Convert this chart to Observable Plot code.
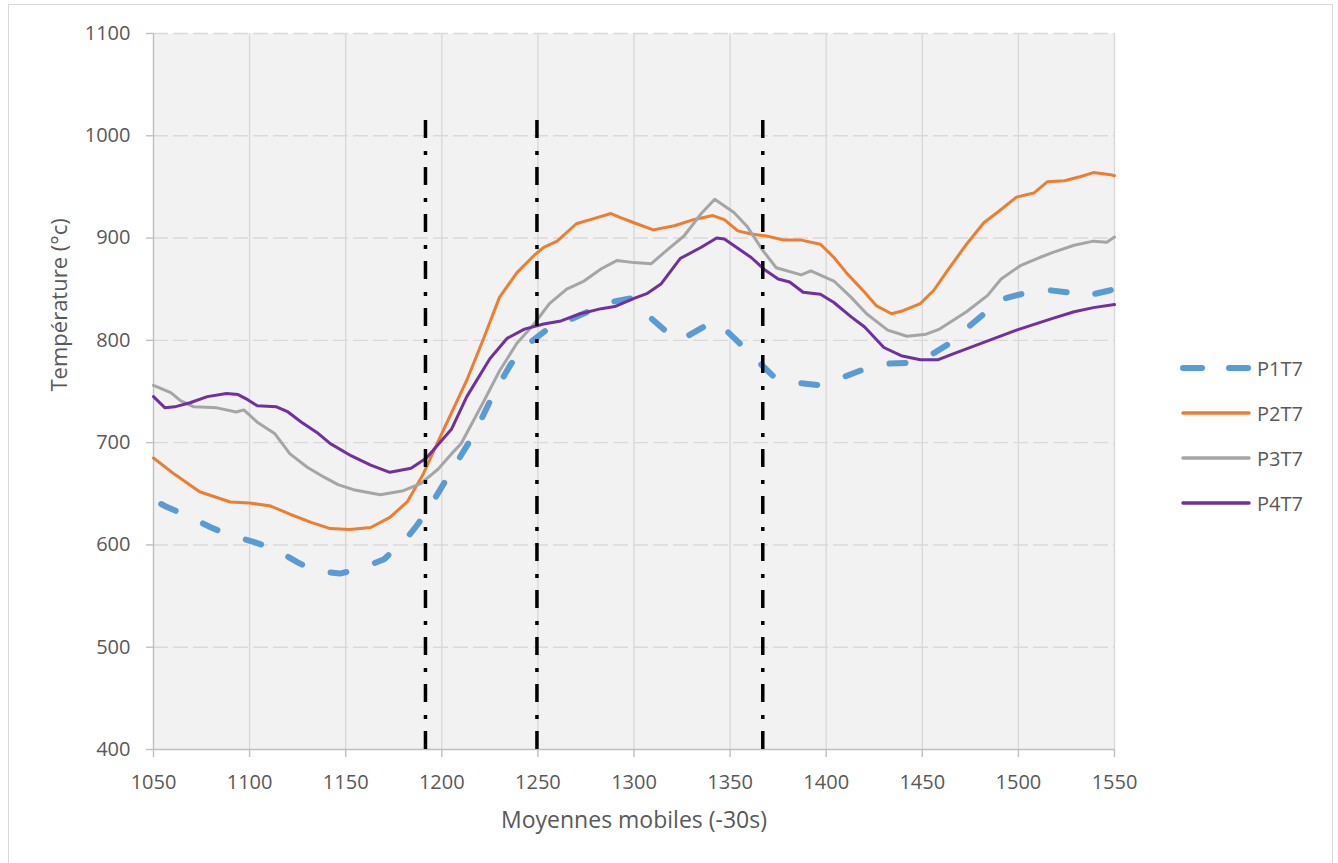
<!DOCTYPE html>
<html>
<head>
<meta charset="utf-8">
<script src="https://cdn.jsdelivr.net/npm/d3@7"></script>
<script src="https://cdn.jsdelivr.net/npm/@observablehq/plot@0.6"></script>
<style>
  body { margin: 0; background: #ffffff; font-family: "Open Sans", sans-serif; }
  #wrap { position: relative; width: 1338px; height: 863px; overflow: hidden; }
  #border { position: absolute; left: 8px; top: 4px; width: 1325px; height: 870px; border: 1px solid #d9d9d9; box-sizing: border-box; }
  #chart { position: absolute; left: 0; top: 0; }
  .leg { position: absolute; left: 1180px; height: 30px; display: flex; align-items: center; }
  .leg span { font-size: 20px; color: #595959; margin-left: 5px; }
</style>
</head>
<body>
<div id="wrap">
  <div id="border"></div>
  <div id="chart"></div>
  <div id="legend"></div>
</div>
<script>
// ---- Data ----
const xTicks = [1050, 1100, 1150, 1200, 1250, 1300, 1350, 1400, 1450, 1500, 1550];
const yTicks = [400, 500, 600, 700, 800, 900, 1000, 1100];
const seriesNames = ["P1T7", "P2T7", "P3T7", "P4T7"];
const seriesColors = ["#5B9BD5", "#ED7D31", "#A5A5A5", "#7030A0"];

const p1x = [1054,1057,1067,1080,1089,1102,1113,1125,1133,1147,1158,1170,1175,1179,1187,1193,1203,1217,1227,1236,1244,1255,1264,1276,1284,1298,1305,1316,1324,1336,1342,1345,1355,1362,1373,1383,1397,1406,1420,1428,1442,1453,1465,1472,1484,1489,1503,1512,1525,1532,1534,1548,1550];
const p1y = [640,637,629,617,610,603,596,583,575,572,577,586,595,600,619,635,666,709,748,777,795,811,818,828,836,841,828,810,800,813,818,815,797,784,764,759,756,762,772,777,778,784,798,810,829,839,846,850,847,846,843,849,852];

const p2x = [1050,1061,1074,1090,1100,1111,1121,1132,1142,1152,1163,1173,1182,1190,1199,1213,1222,1230,1239,1248,1253,1260,1270,1279,1288,1293,1300,1310,1321,1331,1341,1347,1354,1361,1369,1378,1387,1397,1404,1411,1420,1426,1434,1440,1449,1456,1463,1473,1482,1489,1499,1508,1515,1524,1532,1539,1548,1550];
const p2y = [685,669,652,642,641,638,630,622,616,615,617,627,642,668,705,761,803,842,866,883,891,897,914,919,924,920,915,908,912,918,922,918,907,904,902,898,898,894,881,865,847,834,826,829,836,849,868,894,915,925,940,944,955,956,960,964,962,961];

const p3x = [1050,1059,1064,1071,1083,1093,1097,1104,1113,1121,1130,1139,1146,1154,1168,1180,1189,1198,1205,1210,1222,1230,1239,1248,1256,1265,1274,1283,1291,1300,1309,1317,1326,1335,1342,1352,1359,1367,1374,1387,1392,1404,1413,1421,1432,1442,1452,1459,1473,1484,1491,1501,1511,1518,1529,1539,1546,1550];
const p3y = [756,749,741,735,734,730,732,720,709,689,676,666,659,654,649,653,660,674,689,699,741,770,797,816,836,850,858,870,878,876,875,888,902,924,938,925,911,888,871,864,868,858,842,826,810,804,806,811,828,844,860,873,881,886,893,897,896,901];

const p4x = [1050,1056,1061,1069,1078,1088,1094,1099,1104,1114,1120,1127,1135,1142,1153,1163,1173,1184,1192,1205,1213,1225,1234,1243,1253,1262,1272,1283,1290,1300,1307,1314,1324,1335,1343,1347,1354,1361,1368,1375,1381,1388,1397,1404,1413,1420,1430,1439,1449,1458,1465,1482,1499,1517,1529,1539,1550];
const p4y = [745,734,735,739,745,748,747,742,736,735,730,720,710,699,687,678,671,675,685,713,745,782,802,811,816,819,826,831,833,841,846,855,880,891,900,899,890,881,869,860,857,847,845,837,823,813,793,785,781,781,786,798,810,821,828,832,835];

const markerX = [1191.5, 1249.5, 1367];
const markerTop = 1015;

// ---- Build tables ----
const toRows = (xs, ys, name) => xs.map((x, i) => ({x, y: ys[i], name}));
const s1 = toRows(p1x, p1y, seriesNames[0]);
const s2 = toRows(p2x, p2y, seriesNames[1]);
const s3 = toRows(p3x, p3y, seriesNames[2]);
const s4 = toRows(p4x, p4y, seriesNames[3]);
const markers = markerX.map(x => ({x, y1: yTicks[0], y2: markerTop}));

const W = 1338, H = 863;
const chart = Plot.plot({
  width: W,
  height: H,
  marginLeft: 153,
  marginTop: 33,
  marginRight: 224,
  marginBottom: 114,
  style: {fontFamily: "'Open Sans', sans-serif", fontSize: "20px", color: "#595959", background: "transparent"},
  x: {domain: [1050, 1550]},
  y: {domain: [400, 1100]},
  marks: [
    Plot.frame({fill: "#f2f2f2", stroke: null}),
    Plot.gridX(xTicks.slice(1), {stroke: "#d9d9d9", strokeOpacity: 1, strokeWidth: 1.4}),
    Plot.gridY(yTicks.slice(1), {stroke: "#d9d9d9", strokeOpacity: 1, strokeWidth: 1.4, strokeDasharray: "15,5"}),
    Plot.ruleX([1050], {stroke: "#bfbfbf", strokeWidth: 1.4}),
    Plot.ruleY([400], {stroke: "#bfbfbf", strokeWidth: 1.4}),
    Plot.axisX({ticks: xTicks, tickSize: 8, tickPadding: 17, fontSize: 20, label: null, tickFormat: d => String(d)}),
    Plot.axisY({ticks: yTicks, tickSize: 7, tickPadding: 16, fontSize: 20, label: null, tickFormat: d => String(d)}),
    Plot.text(["Moyennes mobiles (-30s)"], {frameAnchor: "bottom", dy: 71, fontSize: 23, fill: "#595959", lineAnchor: "middle"}),
    Plot.text(["Température (°c)"], {frameAnchor: "left", dx: -94, rotate: -90, fontSize: 22, fill: "#595959", lineAnchor: "middle"}),
    Plot.line(s1, {x: "x", y: "y", stroke: seriesColors[0], strokeWidth: 6, strokeDasharray: "16,30", strokeLinecap: "round", strokeLinejoin: "round"}),
    Plot.line(s2, {x: "x", y: "y", stroke: seriesColors[1], strokeWidth: 3, strokeLinejoin: "round"}),
    Plot.line(s3, {x: "x", y: "y", stroke: seriesColors[2], strokeWidth: 3, strokeLinejoin: "round"}),
    Plot.line(s4, {x: "x", y: "y", stroke: seriesColors[3], strokeWidth: 3, strokeLinejoin: "round"}),
    Plot.ruleX(markers, {x: "x", y1: "y1", y2: "y2", stroke: "#000000", strokeWidth: 3.5, strokeDasharray: "18,12,4,13"})
  ]
});
d3.select(chart).selectAll('g[aria-label="x-axis tick"] path, g[aria-label="y-axis tick"] path').attr("stroke", "#bfbfbf");
d3.select(chart).selectAll('g[aria-label="x-axis tick"], g[aria-label="y-axis tick"]').attr("stroke", "#bfbfbf").attr("stroke-width", 1.4);
document.getElementById("chart").appendChild(chart);

// ---- Legend ----
const legendRowsY = [368, 413, 458, 503];
const legend = document.getElementById("legend");
seriesNames.forEach((name, i) => {
  const row = document.createElement("div");
  row.className = "leg";
  row.style.top = (legendRowsY[i] - 15) + "px";
  const isDash = i === 0;
  row.innerHTML = `<svg width="72" height="30"><line x1="3" x2="69" y1="15" y2="15" stroke="${seriesColors[i]}" stroke-width="${isDash ? 6 : 3.5}" stroke-linecap="round" ${isDash ? 'stroke-dasharray="19,27"' : ''}/></svg><span>${name}</span>`;
  legend.appendChild(row);
});
</script>
</body>
</html>
